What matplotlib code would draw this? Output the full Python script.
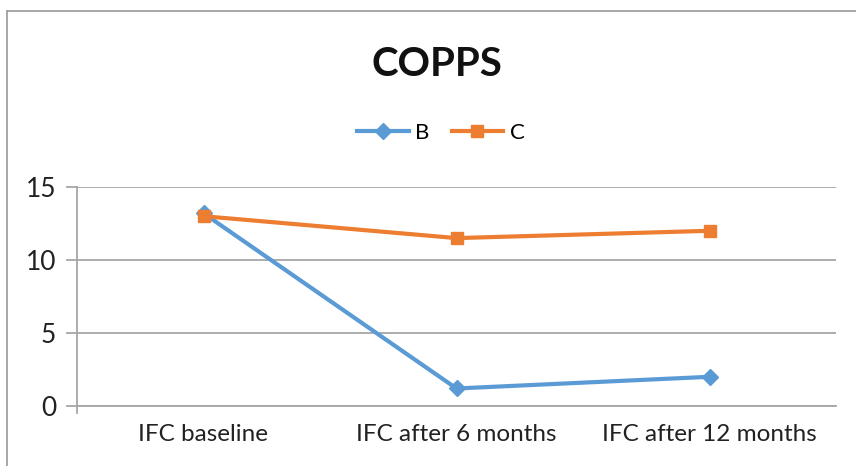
import matplotlib
matplotlib.use("Agg")
import matplotlib.pyplot as plt
from matplotlib.lines import Line2D

categories = ["IFC baseline", "IFC after 6 months", "IFC after 12 months"]
series_b = [13.2, 1.2, 2.0]
series_c = [13.0, 11.5, 12.0]
yticks = [0, 5, 10, 15]

plt.rcParams['font.family'] = ['Lato', 'DejaVu Sans']

W, H = 856, 466
fig = plt.figure(figsize=(W / 100, H / 100), dpi=100)

# outer chart frame: top and left edges only
frame_kw = dict(transform=fig.transFigure, color="#a0a0a0", linewidth=1.3)
fig.add_artist(Line2D([6.5 / W, 1.0], [1 - 11 / H, 1 - 11 / H], **frame_kw))
fig.add_artist(Line2D([6.5 / W, 6.5 / W], [0.0, 1 - 11 / H], **frame_kw))

x0, x1 = 77, 836
y0, y1 = 406, 187
ax = fig.add_axes([x0 / W, 1 - y0 / H, (x1 - x0) / W, (y0 - y1) / H])

xs = [0.5, 1.5, 2.5]
ax.plot(xs, series_b, color="#5b9bd5", linewidth=3, marker="D",
        markersize=8, label="B", zorder=3)
ax.plot(xs, series_c, color="#ed7d31", linewidth=3, marker="s",
        markersize=8.5, label="C", zorder=3)

ax.set_xlim(0, 3)
ax.set_ylim(0, 15)
ax.set_yticks(yticks)
ax.set_xticks(xs)
ax.set_xticklabels(categories, fontsize=17.5, color="#222222")
ax.tick_params(axis="x", length=0, pad=13)
ax.tick_params(axis="y", length=0, pad=15, labelsize=19, labelcolor="#222222")
ax.grid(axis="y", color="#a6a6a6", linewidth=1.3)
ax.set_axisbelow(True)
for s in ["top", "right"]:
    ax.spines[s].set_visible(False)
ax.spines["left"].set_color("#a6a6a6")
ax.spines["left"].set_linewidth(1.3)
ax.spines["bottom"].set_color("#a6a6a6")
ax.spines["bottom"].set_linewidth(1.3)
ax.spines["left"].set_bounds(-0.5, 15)

# tick marks left of the y axis
for t in yticks:
    ax.plot([-10 / 253, 0], [t, t], color="#a6a6a6", linewidth=1.3,
            clip_on=False)

fig.text(437 / W, 1 - 64 / H, "COPPS", ha="center", va="center",
         fontsize=29, fontweight="bold", color="#111111")

fig.legend(loc="center", bbox_to_anchor=(441 / W, 1 - 133 / H),
           ncol=2, frameon=False, fontsize=16, handlelength=2.3,
           columnspacing=1.0, handletextpad=0.3)

fig.savefig("out.png", dpi=100)
